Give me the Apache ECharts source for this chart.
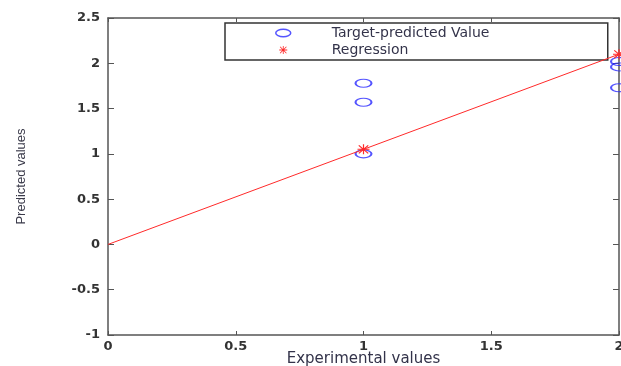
<!DOCTYPE html>
<html>
<head>
<meta charset="utf-8">
<script src="https://cdn.jsdelivr.net/npm/echarts@6/dist/echarts.min.js"></script>
<style>
html,body{margin:0;padding:0;background:#fff;}
#chart{width:621px;height:366px;}
</style>
</head>
<body>
<div id="chart"></div>
<script>
// Data
var targetX = [1, 1, 1, 2, 2, 2];
var targetY = [1.78, 1.57, 1.00, 2.02, 1.96, 1.73];
var regressionX = [0, 1, 2];
var regressionY = [0, 1.05, 2.10];
var xTicks = [0, 0.5, 1, 1.5, 2];
var yTicks = [-1, -0.5, 0, 0.5, 1, 1.5, 2, 2.5];

var ellipsePath = 'path://M0,5 A10,5 0 1,1 20,5 A10,5 0 1,1 0,5 Z';
var starPath = 'path://M0,4.5 L10,4.5 L10,5.5 L0,5.5 Z M4.5,0 L5.5,0 L5.5,10 L4.5,10 Z M0.7,1.4 L1.4,0.7 L9.3,8.6 L8.6,9.3 Z M8.6,0.7 L9.3,1.4 L1.4,9.3 L0.7,8.6 Z';

var blue = '#2a2aff';
var red = '#ff2a2a';
var axisColor = '#555';

var targetData = targetX.map(function (x, i) { return [x, targetY[i]]; });
var regData = regressionX.map(function (x, i) {
  return i === 0 ? { value: [x, regressionY[i]], symbol: 'none' } : { value: [x, regressionY[i]] };
});

var tickLabelStyle = { fontFamily: 'DejaVu Sans', fontWeight: 'bold', fontSize: 13, color: '#333' };

var chart = echarts.init(document.getElementById('chart'), null, { renderer: 'canvas' });
chart.setOption({
  animation: false,
  backgroundColor: '#fff',
  grid: { left: 108, right: 2, top: 18, bottom: 31, show: false, containLabel: false, outerBoundsMode: 'none' },
  legend: {
    left: 225, top: 23, orient: 'vertical',
    borderColor: '#333', borderWidth: 1.5,
    padding: [3, 15, 3, 50],
    itemGap: 3,
    itemWidth: 15, itemHeight: 8,
    textStyle: { fontFamily: 'DejaVu Sans', fontSize: 14, lineHeight: 14, color: '#33334a', width: 261, padding: [0, 0, 0, 36] },
    data: [
      { name: 'Target-predicted Value', icon: ellipsePath, itemStyle: { color: 'transparent', borderColor: blue, borderWidth: 1.5 } },
      { name: 'Regression', icon: starPath, itemStyle: { color: red, borderWidth: 0 } }
    ]
  },
  xAxis: [{
    type: 'value', min: 0, max: 2, interval: 0.5,
    name: 'Experimental values', nameLocation: 'middle', nameGap: 17, nameMoveOverlap: false,
    nameTextStyle: { fontFamily: 'DejaVu Sans', fontSize: 15, color: '#33334a' },
    axisLine: { show: true, onZero: false, lineStyle: { color: axisColor, width: 1.5 } },
    axisTick: { show: true, inside: true, length: 4, lineStyle: { color: axisColor } },
    axisLabel: Object.assign({ margin: 5, formatter: function (v) { return String(v); } }, tickLabelStyle),
    splitLine: { show: false }
  }, {
    type: 'value', min: 0, max: 2, interval: 0.5, position: 'top',
    axisLine: { show: true, onZero: false, lineStyle: { color: axisColor, width: 1.5 } },
    axisTick: { show: true, inside: true, length: 4, lineStyle: { color: axisColor } },
    axisLabel: { show: false }, splitLine: { show: false }
  }],
  yAxis: [{
    type: 'value', min: -1, max: 2.5, interval: 0.5,
    name: 'Predicted values', nameLocation: 'middle', nameRotate: 90, nameGap: 80, nameMoveOverlap: false,
    nameTextStyle: { fontFamily: 'Liberation Sans Narrow, Liberation Sans', fontSize: 13, color: '#3a3a4a' },
    axisLine: { show: true, onZero: false, lineStyle: { color: axisColor, width: 1.5 } },
    axisTick: { show: true, inside: true, length: 6, lineStyle: { color: axisColor } },
    axisLabel: Object.assign({ margin: 8, formatter: function (v) { return String(v); } }, tickLabelStyle),
    splitLine: { show: false }
  }, {
    type: 'value', min: -1, max: 2.5, interval: 0.5, position: 'right',
    axisLine: { show: true, onZero: false, lineStyle: { color: axisColor, width: 1.5 } },
    axisTick: { show: true, inside: true, length: 6, lineStyle: { color: axisColor } },
    axisLabel: { show: false }, splitLine: { show: false }
  }],
  series: [{
    name: 'Target-predicted Value', type: 'scatter', xAxisIndex: 0, yAxisIndex: 0,
    data: targetData, symbol: ellipsePath, symbolSize: [16, 8],
    itemStyle: { color: 'transparent', borderColor: blue, borderWidth: 1.5 },
    clip: false, z: 3
  }, {
    name: 'Regression', type: 'line', xAxisIndex: 0, yAxisIndex: 0,
    data: regData, symbol: starPath, symbolSize: [12, 10], showAllSymbol: true,
    lineStyle: { color: red, width: 1 },
    itemStyle: { color: red, borderWidth: 0 },
    clip: false, z: 4
  }]
});
</script>
</body>
</html>
